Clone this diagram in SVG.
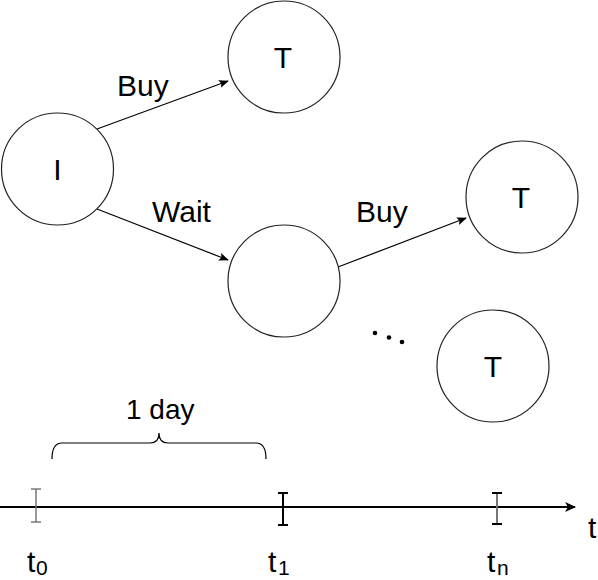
<svg xmlns="http://www.w3.org/2000/svg" width="598" height="580" viewBox="0 0 598 580">
<style>
.node{fill:#fff;stroke:#222;stroke-width:1.2}
.lbl{font-family:"Liberation Sans",Arial,sans-serif;font-size:30px;fill:#000}
.sub{font-family:"Liberation Sans",Arial,sans-serif;font-size:21px;fill:#000}
.edge{stroke:#000;stroke-width:1.2;fill:none}
</style>
<defs>
<marker id="arr" viewBox="0 0 10 10" refX="9" refY="5" markerWidth="10" markerHeight="10" markerUnits="userSpaceOnUse" orient="auto">
<path d="M0,1 L10,5 L0,9 L2,5 Z" fill="#000"/>
</marker>
<marker id="arr2" viewBox="0 0 10 10" refX="9" refY="5" markerWidth="11" markerHeight="11" markerUnits="userSpaceOnUse" orient="auto">
<path d="M0,0.5 L10,5 L0,9.5 L2.5,5 Z" fill="#000"/>
</marker>
</defs>
<g id="edges">
<line class="edge" x1="97" y1="129" x2="228" y2="81" marker-end="url(#arr)"/>
<line class="edge" x1="97" y1="209" x2="228" y2="260" marker-end="url(#arr)"/>
<line class="edge" x1="338" y1="267" x2="466" y2="218" marker-end="url(#arr)"/>
<text class="lbl" x="117" y="96">Buy</text>
<text class="lbl" x="152" y="222">Wait</text>
<text class="lbl" x="356" y="222">Buy</text>
</g>
<g id="node-I"><circle class="node" cx="57.5" cy="169" r="56"/><text class="lbl" x="57.5" y="180" text-anchor="middle">I</text></g>
<g id="node-T1"><circle class="node" cx="284" cy="57" r="56"/><text class="lbl" x="283" y="68" text-anchor="middle">T</text></g>
<g id="node-M"><circle class="node" cx="284" cy="281" r="56"/></g>
<g id="node-T2"><circle class="node" cx="522" cy="197" r="56"/><text class="lbl" x="521" y="208" text-anchor="middle">T</text></g>
<g id="node-T3"><circle class="node" cx="493" cy="366" r="56"/><text class="lbl" x="493" y="377" text-anchor="middle">T</text></g>
<g id="dots" fill="#000">
<circle cx="375" cy="333" r="2.3"/><circle cx="389" cy="337.5" r="2.3"/><circle cx="402" cy="342" r="2.3"/>
</g>
<g id="timeline">
<path d="M52,459 Q52,443 62,443 L150,443 Q159,443 159,433 Q159,443 168,443 L256,443 Q266,443 266,459" fill="none" stroke="#000" stroke-width="1.2"/>
<text class="lbl" x="126" y="419" style="font-size:28px">1 day</text>
<line x1="0" y1="507" x2="575" y2="507" stroke="#000" stroke-width="2" marker-end="url(#arr2)"/>
<g stroke="#777" stroke-width="1.5"><line x1="36" y1="489" x2="36" y2="522"/><line x1="31" y1="489" x2="41" y2="489"/><line x1="31" y1="522" x2="41" y2="522"/></g>
<g stroke="#000" stroke-width="2"><line x1="283" y1="493" x2="283" y2="525"/><line x1="278" y1="493" x2="288" y2="493"/><line x1="278" y1="525" x2="288" y2="525"/></g>
<g stroke="#000" stroke-width="2"><line x1="497" y1="493" x2="497" y2="524" stroke="#777"/><line x1="492" y1="493" x2="502" y2="493"/><line x1="492" y1="524" x2="502" y2="524"/></g>
<text class="lbl" x="588" y="538">t</text>
<text class="lbl" x="27" y="572">t</text><text class="sub" x="36" y="575">0</text>
<text class="lbl" x="268" y="572">t</text><text class="sub" x="278" y="575">1</text>
<text class="lbl" x="487" y="572">t</text><text class="sub" x="497" y="575">n</text>
</g>
</svg>
